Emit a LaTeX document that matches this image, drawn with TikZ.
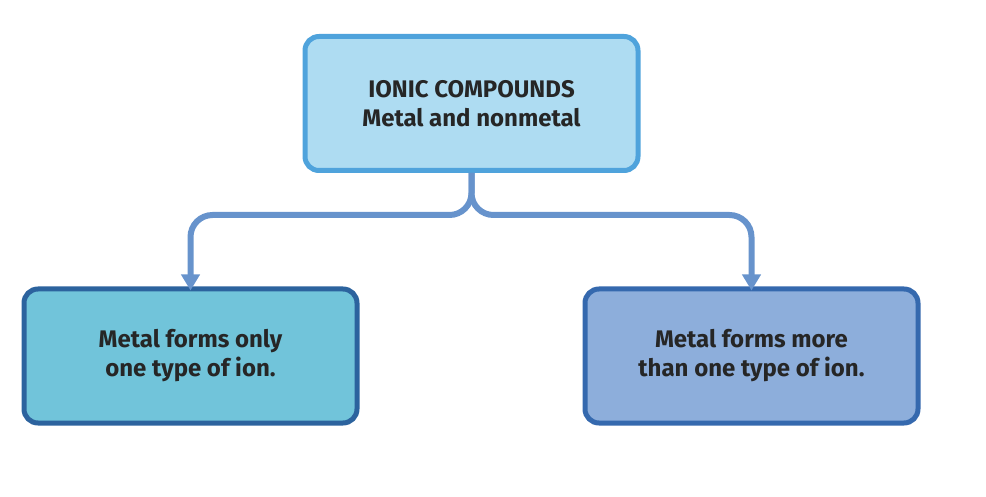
\documentclass[tikz,border=0pt]{standalone}
\usepackage{fontspec}
\setmainfont{Fira Sans}
\usetikzlibrary{arrows.meta}
\definecolor{topfill}{HTML}{AEDCF2}
\definecolor{topdraw}{HTML}{4FA3DC}
\definecolor{lfill}{HTML}{71C4DA}
\definecolor{ldraw}{HTML}{2C639E}
\definecolor{rfill}{HTML}{8DAEDB}
\definecolor{rdraw}{HTML}{3569AE}
\definecolor{conn}{HTML}{6793CC}
\tikzset{
 box/.style={rounded corners=14pt, line width=5pt, minimum width=333pt, minimum height=134pt, align=center, font=\fontsize{24}{29}\selectfont\bfseries, text=black!85},
 conn/.style={draw=conn, line width=6pt, rounded corners=22pt},
 tip/.style={-{Triangle[length=16pt,width=18pt]}}
}
\begin{document}
\begin{tikzpicture}[x=1pt,y=-1pt]
\useasboundingbox (0,0) rectangle (986,497);
\node[box, fill=topfill, draw=topdraw] (top) at (471.5,103.5) {IONIC COMPOUNDS\\Metal and nonmetal};
\node[box, fill=lfill, draw=ldraw] (left) at (190.5,356) {Metal forms only\\one type of ion.};
\node[box, fill=rfill, draw=rdraw] (right) at (751.5,356) {Metal forms more\\than one type of ion.};
\coordinate (j) at (471.5,215);
\draw[conn, tip] (top.south) -- (j) -| ([yshift=-4pt]left.north);
\draw[conn, tip] (top.south) -- (j) -| ([yshift=-4pt]right.north);
\end{tikzpicture}
\end{document}
